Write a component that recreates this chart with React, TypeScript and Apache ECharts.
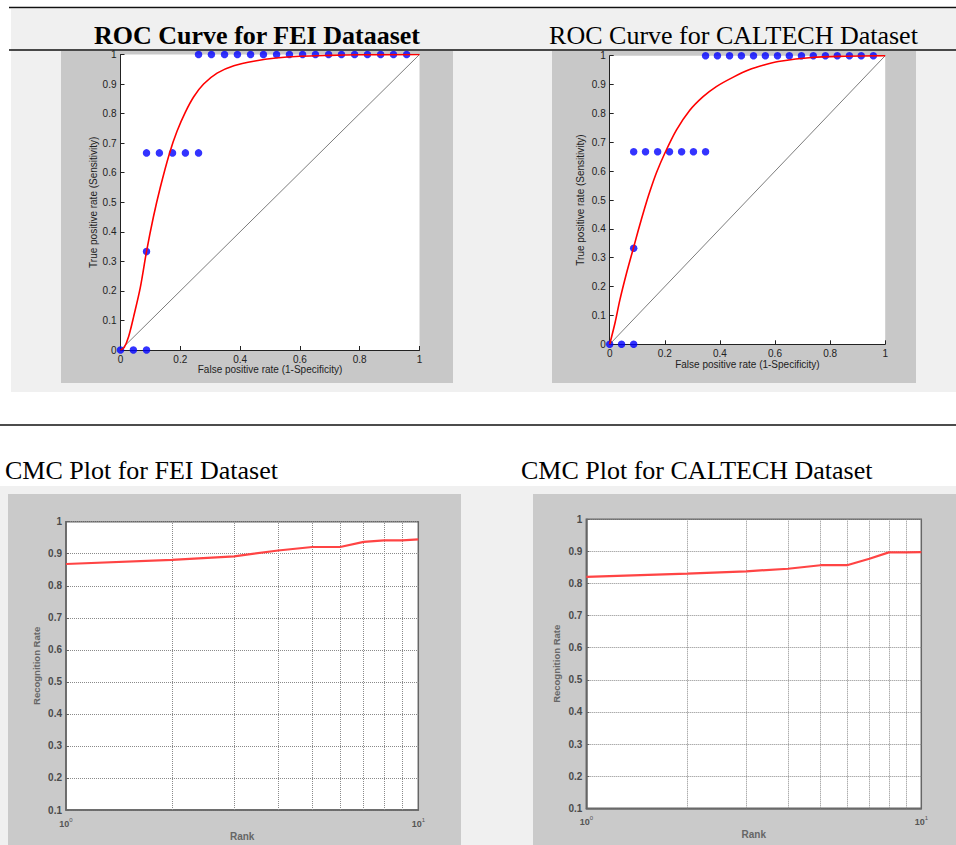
import React, { useEffect, useRef } from "react";
import * as echarts from "echarts";

// ---------- DATA ----------
const feiRocPoints: [number, number][] = [
  [0, 0], [0.043, 0], [0.087, 0],
  [0.087, 0.333],
  [0.087, 0.667], [0.13, 0.667], [0.174, 0.667], [0.217, 0.667], [0.261, 0.667],
  [0.261, 1], [0.304, 1], [0.348, 1], [0.391, 1], [0.435, 1], [0.478, 1], [0.522, 1], [0.565, 1],
  [0.609, 1], [0.652, 1], [0.696, 1], [0.739, 1], [0.783, 1], [0.826, 1], [0.87, 1], [0.913, 1], [0.957, 1],
];
const caltechRocPoints: [number, number][] = [
  [0, 0], [0.043, 0], [0.087, 0],
  [0.087, 0.333],
  [0.087, 0.667], [0.13, 0.667], [0.174, 0.667], [0.217, 0.667], [0.261, 0.667], [0.304, 0.667], [0.348, 0.667],
  [0.348, 1], [0.391, 1], [0.435, 1], [0.478, 1], [0.522, 1], [0.565, 1], [0.609, 1], [0.652, 1],
  [0.696, 1], [0.739, 1], [0.783, 1], [0.826, 1], [0.87, 1], [0.913, 1], [0.957, 1],
];
const feiRocFit: [number, number][] = [
  [0, 0], [0.012, 0.008], [0.027, 0.045], [0.044, 0.113], [0.066, 0.21], [0.087, 0.333], [0.11, 0.45],
  [0.133, 0.55], [0.164, 0.666], [0.189, 0.74], [0.217, 0.805], [0.245, 0.857], [0.278, 0.9],
  [0.323, 0.937], [0.379, 0.962], [0.45, 0.978], [0.52, 0.988], [0.6, 0.994], [0.7, 0.997], [0.8, 0.999], [1, 1],
];
const caltechRocFit: [number, number][] = [
  [0, 0], [0.019, 0.073], [0.037, 0.154], [0.061, 0.246], [0.086, 0.333], [0.104, 0.396], [0.127, 0.472],
  [0.146, 0.53], [0.17, 0.595], [0.2, 0.662], [0.242, 0.742], [0.29, 0.81], [0.339, 0.858], [0.387, 0.893],
  [0.447, 0.925], [0.508, 0.952], [0.56, 0.968], [0.612, 0.98], [0.733, 0.994], [0.855, 0.998], [1, 1],
];
const chanceLine: [number, number][] = [[0, 0], [1, 1]];

const cmcRanks = [1, 2, 3, 4, 5, 6, 7, 8, 9, 10];
const feiCmc = [0.868, 0.881, 0.892, 0.91, 0.921, 0.921, 0.937, 0.942, 0.942, 0.945];
const caltechCmc = [0.821, 0.831, 0.838, 0.846, 0.857, 0.857, 0.877, 0.897, 0.897, 0.898];
const cmcMinorRanks = [2, 3, 4, 5, 6, 7, 8, 9];

const titleRocFei = "ROC Curve for FEI Dataaset";
const titleRocCaltech = "ROC Curve for CALTECH Dataset";
const titleCmcFei = "CMC Plot for FEI Dataset";
const titleCmcCaltech = "CMC Plot for CALTECH Dataset";
const rocXName = "False positive rate (1-Specificity)";
const rocYName = "True positive rate (Sensitivity)";
const cmcXName = "Rank";
const cmcYName = "Recognition Rate";

// ---------- STYLE HELPERS ----------
const SANS = "'Liberation Sans', Arial, sans-serif";
const SERIF = "'Liberation Serif', 'Times New Roman', serif";
const fmt1 = (v: number) => String(Math.round(v * 10) / 10);

function rocX(gridIndex: number, nameGap: number) {
  return {
    type: "value", gridIndex, min: 0, max: 1, interval: 0.2,
    name: rocXName, nameLocation: "middle", nameGap,
    nameTextStyle: { fontFamily: SANS, fontSize: 10, color: "#222" },
    axisLine: { show: true, onZero: false, lineStyle: { color: "#222", width: 1 } },
    axisTick: { show: true, inside: true, length: 4, lineStyle: { color: "#222" } },
    axisLabel: { margin: 4, fontFamily: SANS, fontSize: 10, color: "#222", formatter: fmt1 },
    splitLine: { show: false },
  };
}
function rocY(gridIndex: number, nameGap: number) {
  return {
    type: "value", gridIndex, min: 0, max: 1, interval: 0.1,
    name: rocYName, nameLocation: "middle", nameGap,
    nameTextStyle: { fontFamily: SANS, fontSize: 10, color: "#222" },
    axisLine: { show: true, onZero: false, lineStyle: { color: "#222", width: 1 } },
    axisTick: { show: true, inside: true, length: 4, lineStyle: { color: "#222" } },
    axisLabel: { margin: 4, fontFamily: SANS, fontSize: 10, color: "#222", formatter: fmt1 },
    splitLine: { show: false },
  };
}
function cmcX(gridIndex: number) {
  return {
    type: "log", logBase: 10, gridIndex, min: 1, max: 10,
    name: cmcXName, nameLocation: "middle", nameGap: 21,
    nameTextStyle: { fontFamily: SANS, fontSize: 10, fontWeight: "bold", color: "#666" },
    axisLine: { show: true, onZero: false, lineStyle: { color: "#666", width: 1.5 } },
    axisTick: { show: false },
    axisLabel: {
      margin: 7, fontFamily: SANS, color: "#555",
      formatter: (v: number) => "{b|10}{s|" + Math.round(Math.log10(v)) + "}",
      rich: {
        b: { fontSize: 9, fontWeight: "bold", color: "#555", fontFamily: SANS },
        s: { fontSize: 6, color: "#555", fontFamily: SANS, padding: [0, 0, 7, 0] },
      },
    },
    splitLine: { show: false },
  };
}
function cmcY(gridIndex: number) {
  return {
    type: "value", gridIndex, min: 0.1, max: 1, interval: 0.1,
    name: cmcYName, nameLocation: "middle", nameGap: 25,
    nameTextStyle: { fontFamily: SANS, fontSize: 9.5, fontWeight: "bold", color: "#666" },
    axisLine: { show: true, onZero: false, lineStyle: { color: "#666", width: 1.5 } },
    axisTick: { show: true, inside: true, length: 3, lineStyle: { color: "#666" } },
    axisLabel: { margin: 4, fontFamily: SANS, fontSize: 10, fontWeight: "bold", color: "#4a4a4a", formatter: fmt1 },
    splitLine: { show: true, lineStyle: { type: "dotted", color: "#8a8a8a", width: 1 } },
  };
}

function rocSeries(idx: number, pts: [number, number][], fit: [number, number][]) {
  return [
    {
      type: "line", xAxisIndex: idx, yAxisIndex: idx, data: chanceLine, symbol: "none",
      lineStyle: { color: "#444", width: 0.7 }, silent: true,
    },
    {
      type: "scatter", xAxisIndex: idx, yAxisIndex: idx, data: pts, symbol: "circle", symbolSize: 7.5,
      itemStyle: { color: "#0000ff" }, clip: false, silent: true,
    },
    {
      type: "line", xAxisIndex: idx, yAxisIndex: idx, data: fit, symbol: "none", smooth: 0.3,
      lineStyle: { color: "#ff0000", width: 1.6 }, silent: true,
    },
  ];
}
function cmcSeries(idx: number, vals: number[]) {
  return {
    type: "line", xAxisIndex: idx, yAxisIndex: idx,
    data: cmcRanks.map((r, i) => [r, vals[i]]), symbol: "none",
    lineStyle: { color: "#ff4444", width: 2.2 }, silent: true, z: 3,
    markLine: {
      silent: true, symbol: ["none", "none"], z: 1, animation: false,
      label: { show: false },
      lineStyle: { type: "dotted", color: "#8a8a8a", width: 1 },
      data: cmcMinorRanks.map((r) => ({ xAxis: r })),
    },
  };
}

function rect(x: number, y: number, w: number, h: number, fill: string) {
  return { type: "rect", z: -10, silent: true, shape: { x, y, width: w, height: h }, style: { fill } };
}
function hline(y: number, x1: number, x2: number) {
  return { type: "line", z: -5, silent: true, shape: { x1, y1: y, x2, y2: y }, style: { stroke: "#111", lineWidth: 1.6 } };
}
function title(text: string, x: number, y: number, align: string, bold: boolean) {
  return {
    type: "text", z: 10, silent: true, x, y,
    style: {
      text, fill: "#000", font: (bold ? "bold " : "") + "26px " + SERIF,
      align, verticalAlign: "middle",
    },
  };
}

export default function App() {
  const ref = useRef<HTMLDivElement>(null);
  useEffect(() => {
    document.body.style.margin = "0";
    const chart = echarts.init(ref.current!, null, { renderer: "svg" });
    chart.setOption({
      animation: false,
      backgroundColor: "#ffffff",
      graphic: [
        rect(11, 9, 945, 383, "#f0f0f0"),
        rect(61, 51, 392, 332, "#c8c8c8"),
        rect(552, 51, 364, 332, "#c8c8c8"),
        hline(7.5, 9, 956),
        hline(50, 9, 956),
        hline(425, 0, 956),
        rect(0, 486, 956, 359, "#f0f0f0"),
        rect(8, 494, 453, 351, "#cacaca"),
        rect(533, 494, 423, 351, "#cacaca"),
        title(titleRocFei, 257, 35.5, "center", true),
        title(titleRocCaltech, 733.5, 35, "center", false),
        title(titleCmcFei, 5, 470.5, "left", false),
        title(titleCmcCaltech, 521, 470.5, "left", false),
      ],
      grid: [
        { left: 120.5, top: 54.5, width: 299, height: 295.5, show: true, backgroundColor: "#fff", borderWidth: 0, containLabel: false },
        { left: 609.7, top: 55.7, width: 275.5, height: 288.6, show: true, backgroundColor: "#fff", borderWidth: 0, containLabel: false },
        { left: 66, top: 521.7, width: 352.3, height: 288.3, show: true, backgroundColor: "#fff", borderColor: "#666", borderWidth: 1.5, containLabel: false },
        { left: 586.3, top: 519.3, width: 335, height: 289, show: true, backgroundColor: "#fff", borderColor: "#666", borderWidth: 1.5, containLabel: false },
      ],
      xAxis: [rocX(0, 14), rocX(1, 15), cmcX(2), cmcX(3)],
      yAxis: [rocY(0, 22), rocY(1, 24), cmcY(2), cmcY(3)],
      series: [
        ...rocSeries(0, feiRocPoints, feiRocFit),
        ...rocSeries(1, caltechRocPoints, caltechRocFit),
        cmcSeries(2, feiCmc),
        cmcSeries(3, caltechCmc),
      ],
    });
    return () => chart.dispose();
  }, []);
  return <div ref={ref} style={{ width: 956, height: 845 }} />;
}
